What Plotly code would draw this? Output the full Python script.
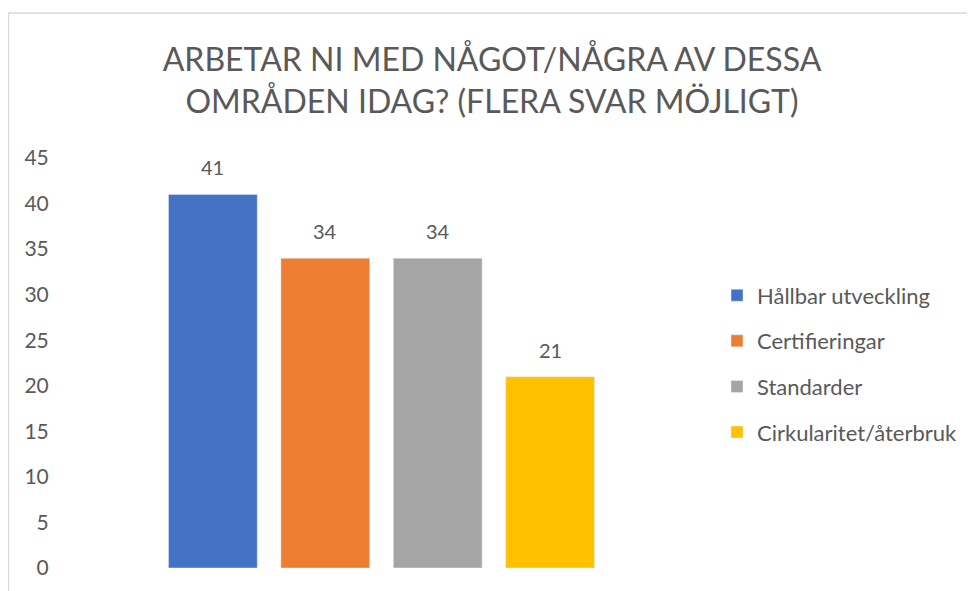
import plotly.graph_objects as go

series = ["Hållbar utveckling", "Certifieringar", "Standarder", "Cirkularitet/återbruk"]
values = [41, 34, 34, 21]
colors = ["#4472C4", "#ED7D31", "#A5A5A5", "#FFC000"]
yticks = [0, 5, 10, 15, 20, 25, 30, 35, 40, 45]
title_text = "ARBETAR NI MED NÅGOT/NÅGRA AV DESSA<br>OMRÅDEN IDAG? (FLERA SVAR MÖJLIGT)"

W, H = 975, 591
L, R, T, B = 52, 280, 149.5, 31.3
FONT = "Lato, Open Sans, sans-serif"
TXT = "#595959"

fig = go.Figure()
for name, v, c in zip(series, values, colors):
    fig.add_trace(go.Bar(
        x=[name], y=[v], name=name, marker_color=c,
        legendgroup=name,
    ))

annotations = [
    dict(x=name, y=v, xref="x", yref="y", text=str(v), showarrow=False,
         yanchor="middle", yshift=27, font=dict(size=20, color=TXT, family=FONT))
    for name, v in zip(series, values)
]

pw = W - L - R
ph = H - T - B
def px2x(px):
    return (px - L) / pw
def py2y(py):
    return 1 - (py - T) / ph

fig.update_layout(
    width=W, height=H,
    margin=dict(l=L, r=R, t=T, b=B),
    paper_bgcolor="white", plot_bgcolor="white",
    barmode="overlay", bargap=0.21,
    font=dict(family=FONT, color=TXT),
    title=dict(text=title_text, x=484 / W, xanchor="center", y=1 - 63 / H, yanchor="top",
               font=dict(size=32, color=TXT, family=FONT)),
    xaxis=dict(type="category", range=[-1.36, 4.36], showticklabels=False,
               showgrid=False, zeroline=False, showline=False, ticks=""),
    yaxis=dict(range=[0, 45], tickvals=yticks, showgrid=False, zeroline=False,
               showline=False, ticks="outside", ticklen=6, tickcolor="rgba(0,0,0,0)",
               tickfont=dict(size=21, color=TXT, family=FONT)),
    legend=dict(x=px2x(709), xanchor="left", y=py2y(266), yanchor="top",
                font=dict(size=22, color=TXT, family=FONT), tracegroupgap=14,
                itemwidth=30, bgcolor="rgba(0,0,0,0)"),
    showlegend=True,
    annotations=annotations,
    shapes=[dict(type="rect", xref="paper", yref="paper",
                 x0=px2x(0.5), x1=px2x(990), y0=py2y(600), y1=py2y(4.5),
                 line=dict(color="#D9D9D9", width=1.5), fillcolor="rgba(0,0,0,0)", layer="below")],
)

fig.write_html("out.html")
